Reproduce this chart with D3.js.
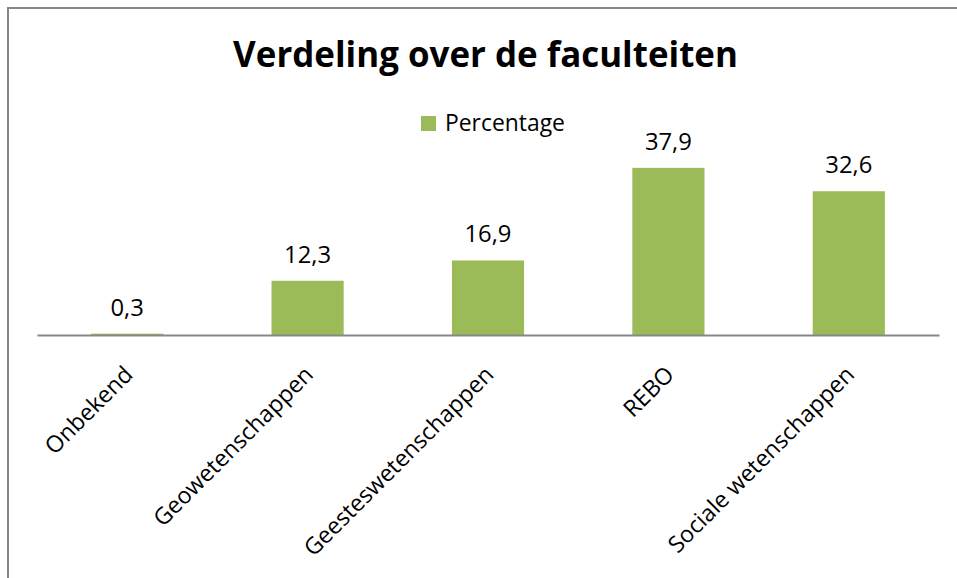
<!DOCTYPE html>
<html>
<head>
<meta charset="utf-8">
<script src="https://cdn.jsdelivr.net/npm/d3@7"></script>
<style>
  body { margin: 0; background: #fff; }
  svg { display: block; font-family: "Open Sans", sans-serif; }
</style>
</head>
<body>
<div id="chart-container"></div>
<script>
// Data
const categories = ["Onbekend", "Geowetenschappen", "Geesteswetenschappen", "REBO", "Sociale wetenschappen"];
const percentages = [0.3, 12.3, 16.9, 37.9, 32.6];
const seriesName = "Percentage";
const title = "Verdeling over de faculteiten";

const W = 957, H = 578;
const plot = { left: 37, right: 939, axisY: 335 };

const svg = d3.select("#chart-container")
  .append("svg")
  .attr("width", W)
  .attr("height", H);

// Outer border (only top and left show)
svg.append("rect")
  .attr("x", 8)
  .attr("y", 8)
  .attr("width", 1200)
  .attr("height", 1200)
  .attr("fill", "none")
  .attr("stroke", "#878787")
  .attr("stroke-width", 2);

// Scales
const x = d3.scaleBand()
  .domain(categories)
  .range([plot.left, plot.right])
  .paddingInner(0.6)
  .paddingOuter(0.3);

const y = d3.scaleLinear()
  .domain([0, 40])
  .range([plot.axisY, plot.axisY - 176.4]);

// helper: set font size so text gets a target width
function fitText(sel, target, startSize) {
  sel.style("font-size", startSize + "px");
  const w = sel.node().getComputedTextLength();
  sel.style("font-size", (startSize * target / w) + "px");
}

// Bars
svg.selectAll(".bar")
  .data(percentages)
  .join("rect")
  .attr("class", "bar")
  .attr("x", (d, i) => x(categories[i]))
  .attr("width", x.bandwidth())
  .attr("y", d => y(d))
  .attr("height", d => y(0) - y(d))
  .attr("fill", "#9BBB59");

// Value labels
const fmt = d => d3.format(".1f")(d).replace(".", ",");
const probe = svg.append("text").text("37,9");
fitText(probe, 47, 20);
const valueSize = probe.style("font-size");
probe.remove();

svg.selectAll(".val")
  .data(percentages)
  .join("text")
  .attr("class", "val")
  .attr("x", (d, i) => x(categories[i]) + x.bandwidth() / 2)
  .attr("y", d => y(d) - 18)
  .attr("text-anchor", "middle")
  .style("font-size", valueSize)
  .style("fill", "#000")
  .text(fmt);

// X axis line
svg.append("g")
  .attr("transform", `translate(0,${plot.axisY})`)
  .call(d3.axisBottom(x).tickSize(0).tickFormat(""))
  .call(g => g.select(".domain")
    .attr("stroke", "#878787")
    .attr("stroke-width", 2));

// Category labels, rotated
const probe2 = svg.append("text").text("Sociale wetenschappen");
fitText(probe2, 252, 20);
const tickSize = probe2.style("font-size");
probe2.remove();

svg.selectAll(".cat")
  .data(categories)
  .join("text")
  .attr("class", "cat")
  .attr("text-anchor", "end")
  .attr("transform", d => `translate(${x(d) + x.bandwidth() / 2 + 7},${plot.axisY + 41}) rotate(-45)`)
  .style("font-size", tickSize)
  .style("fill", "#000")
  .text(d => d);

// Legend
svg.append("rect")
  .attr("x", 421)
  .attr("y", 116)
  .attr("width", 15)
  .attr("height", 15)
  .attr("fill", "#9BBB59");

const legendText = svg.append("text")
  .attr("x", 445)
  .attr("y", 131)
  .style("fill", "#000")
  .text(seriesName);
fitText(legendText, 120, 20);

// Title
const titleText = svg.append("text")
  .attr("x", 485.5)
  .attr("y", 67)
  .attr("text-anchor", "middle")
  .style("font-weight", "bold")
  .style("fill", "#000")
  .text(title);
fitText(titleText, 505, 34);
</script>
</body>
</html>
